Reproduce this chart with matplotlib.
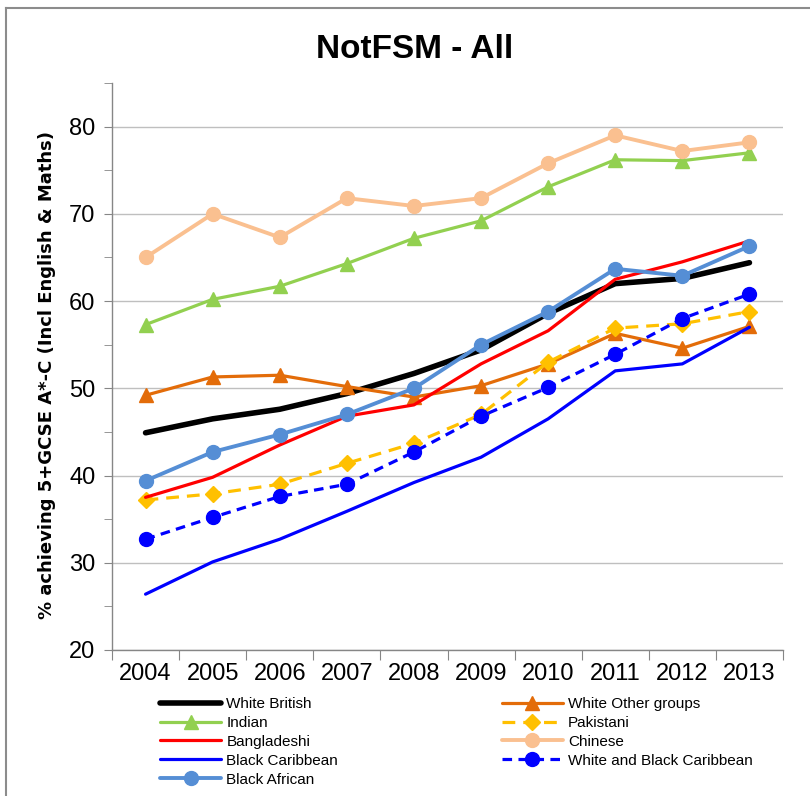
import matplotlib
matplotlib.use("Agg")
import matplotlib.pyplot as plt
from matplotlib.lines import Line2D
from matplotlib import font_manager

years = ["2004", "2005", "2006", "2007", "2008", "2009", "2010", "2011", "2012", "2013"]
white_british = [44.9, 46.5, 47.6, 49.4, 51.7, 54.4, 58.6, 62.0, 62.6, 64.4]
white_other = [49.2, 51.3, 51.5, 50.2, 49.0, 50.3, 52.8, 56.3, 54.6, 57.1]
indian = [57.3, 60.2, 61.7, 64.3, 67.2, 69.2, 73.1, 76.2, 76.1, 77.0]
pakistani = [37.2, 37.9, 39.0, 41.4, 43.7, 47.0, 53.0, 56.9, 57.4, 58.8]
bangladeshi = [37.5, 39.8, 43.5, 46.8, 48.1, 52.8, 56.6, 62.5, 64.5, 66.9]
chinese = [65.0, 70.0, 67.3, 71.8, 70.9, 71.8, 75.8, 79.0, 77.2, 78.2]
black_caribbean = [26.4, 30.1, 32.7, 35.9, 39.2, 42.1, 46.5, 52.0, 52.8, 57.0]
white_black_caribbean = [32.7, 35.2, 37.6, 39.0, 42.7, 46.8, 50.1, 53.9, 58.0, 60.8]
black_african = [39.4, 42.7, 44.7, 47.0, 50.0, 55.0, 58.8, 63.7, 62.9, 66.3]

title = "NotFSM - All"
ylabel = "% achieving 5+GCSE A*-C (Incl English & Maths)"

avail = {f.name for f in font_manager.fontManager.ttflist}
narrow = "Liberation Sans Narrow" if "Liberation Sans Narrow" in avail else "Liberation Sans"

series = [
    ("White British", white_british, dict(color="#000000", lw=4.0, ls="-", marker=None)),
    ("White Other groups", white_other, dict(color="#E36C09", lw=2.3, ls="-", marker="^", ms=10)),
    ("Indian", indian, dict(color="#92D050", lw=2.3, ls="-", marker="^", ms=10)),
    ("Pakistani", pakistani, dict(color="#FFC000", lw=2.3, ls=(0, (4, 2.5)), marker="D", ms=8)),
    ("Bangladeshi", bangladeshi, dict(color="#FF0000", lw=2.3, ls="-", marker=None)),
    ("Chinese", chinese, dict(color="#FAC090", lw=2.8, ls="-", marker="o", ms=10)),
    ("Black Caribbean", black_caribbean, dict(color="#0000FF", lw=2.3, ls="-", marker=None)),
    ("White and Black Caribbean", white_black_caribbean, dict(color="#0000FF", lw=2.3, ls=(0, (3, 2)), marker="o", ms=10)),
    ("Black African", black_african, dict(color="#558ED5", lw=2.8, ls="-", marker="o", ms=10)),
]

fig = plt.figure(figsize=(8.1, 7.96), dpi=100)
ax = fig.add_axes([112/810, 1-650/796, (783-112)/810, (650-83)/796])

x = list(range(len(years)))
handles = {}
for name, vals, st in series:
    ln, = ax.plot(x, vals, color=st["color"], lw=st["lw"], ls=st["ls"],
                  marker=st["marker"], ms=st.get("ms", 0),
                  markeredgecolor=st["color"], markerfacecolor=st["color"],
                  solid_capstyle="round", dash_capstyle="butt", label=name, zorder=3)
    handles[name] = ln

order = ["White British", "Indian", "Bangladeshi", "Black Caribbean", "Black African",
         "White Other groups", "Pakistani", "Chinese", "White and Black Caribbean"]

ax.set_xlim(-0.5, len(years) - 0.5)
ax.set_ylim(20, 85)
ax.set_yticks([20, 30, 40, 50, 60, 70, 80])
ax.set_yticks([25, 35, 45, 55, 65, 75, 85], minor=True)
ax.grid(axis="y", which="major", color="#BFBFBF", lw=1.0, zorder=0)
ax.set_xticks([i - 0.5 for i in range(len(years) + 1)])
ax.set_xticklabels([])
ax.set_xticks(x, minor=True)
ax.set_xticklabels(years, minor=True)
ax.tick_params(axis="x", which="major", length=7, color="#868686", direction="out")
ax.tick_params(axis="x", which="minor", length=0, pad=9, labelsize=17)
ax.tick_params(axis="y", which="both", length=6, color="#868686", direction="out", labelsize=17, pad=6)
for lab in ax.get_xticklabels(minor=True) + ax.get_yticklabels():
    lab.set_family(narrow)
for s in ["top", "right"]:
    ax.spines[s].set_visible(False)
for s in ["left", "bottom"]:
    ax.spines[s].set_color("#868686")
    ax.spines[s].set_linewidth(1.0)

fig.text(415/810, 1-50/796, title, ha="center", va="center", fontsize=24, fontweight="bold", family=narrow)
fig.text(47/810, 1-375/796, ylabel, ha="center", va="center", rotation=90, fontsize=13, fontweight="bold")

leg = fig.legend([handles[n] for n in order], order, ncol=2, loc="upper left",
                 bbox_to_anchor=(160/810, 1-697/796), frameon=False,
                 prop={"family": narrow, "size": 11},
                 handlelength=4.0, handletextpad=0.35, columnspacing=10.7,
                 labelspacing=0.32, borderaxespad=0, borderpad=0)

# chart area border
fig.add_artist(Line2D([6/810, 6/810], [0, 1-8/796], transform=fig.transFigure, color="#8C8C8C", lw=1.5))
fig.add_artist(Line2D([6/810, 1], [1-8/796, 1-8/796], transform=fig.transFigure, color="#8C8C8C", lw=1.5))

fig.savefig("out.png", dpi=100)
